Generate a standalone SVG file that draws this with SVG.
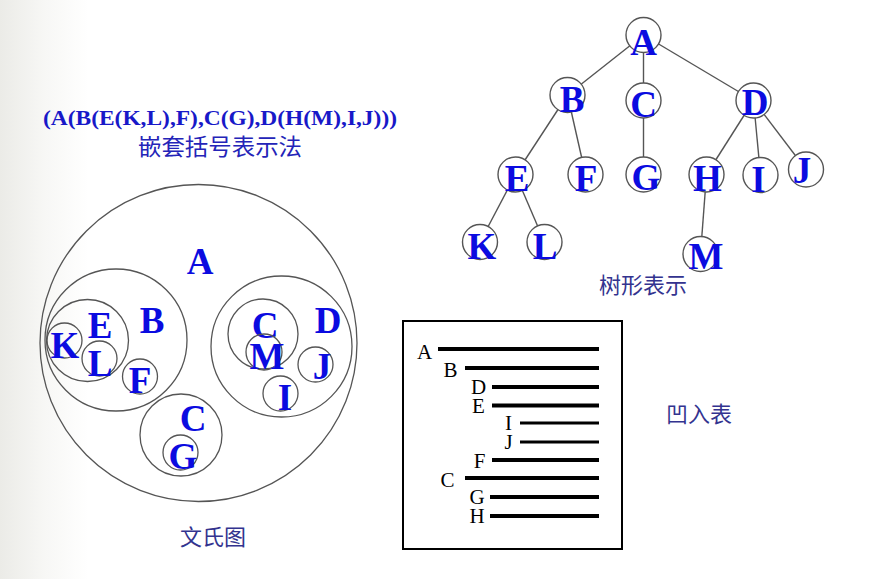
<svg xmlns="http://www.w3.org/2000/svg" width="883" height="579" viewBox="0 0 883 579">
<defs>
<linearGradient id="bg" x1="0" y1="0" x2="1" y2="0">
<stop offset="0" stop-color="#ebebe7"/>
<stop offset="0.05" stop-color="#f7f7f5"/>
<stop offset="0.1" stop-color="#ffffff"/>
</linearGradient>
<style>
.nd{fill:#fff;stroke:#555;stroke-width:1.4}
.vc{fill:none;stroke:#555;stroke-width:1.3}
.lt{font-family:"Liberation Serif","Times New Roman",serif;font-weight:bold;font-size:37px;fill:#0b0be0;text-anchor:middle}
.ed{stroke:#555;stroke-width:1.4;fill:none}
.cap{font-family:"Noto Sans CJK SC","Noto Sans",sans-serif;font-size:22px;fill:#33338f}
.ml{font-family:"Liberation Serif","Times New Roman",serif;font-size:21px;fill:#000;text-anchor:middle}
.bar{stroke:#000;stroke-width:4}
.bar2{stroke:#000;stroke-width:3}
</style>
</defs>
<rect x="0" y="0" width="883" height="579" fill="url(#bg)"/>

<!-- nested parentheses -->
<g id="nested">
<text x="43" y="125" textLength="354" lengthAdjust="spacingAndGlyphs" style="font-family:'Liberation Serif','Times New Roman',serif;font-weight:bold;font-size:21px;fill:#1818c8">(A(B(E(K,L),F),C(G),D(H(M),I,J)))</text>
<text x="138" y="155" textLength="164" lengthAdjust="spacingAndGlyphs" class="cap" style="fill:#2424b8;font-size:23px">嵌套括号表示法</text>
</g>

<!-- tree connectors -->
<g id="tree-edges">
<line class="ed" x1="643.5" y1="35" x2="567.5" y2="95"/>
<line class="ed" x1="643.5" y1="35" x2="643.5" y2="100.5"/>
<line class="ed" x1="643.5" y1="35" x2="753.5" y2="100.5"/>
<line class="ed" x1="567.5" y1="95" x2="515.5" y2="174.5"/>
<line class="ed" x1="567.5" y1="95" x2="585.5" y2="174.5"/>
<line class="ed" x1="643.5" y1="100.5" x2="643.5" y2="174.5"/>
<line class="ed" x1="753.5" y1="100.5" x2="706.5" y2="174.5"/>
<line class="ed" x1="753.5" y1="100.5" x2="760.5" y2="175"/>
<line class="ed" x1="753.5" y1="100.5" x2="806" y2="169.5"/>
<line class="ed" x1="515.5" y1="174.5" x2="480" y2="242"/>
<line class="ed" x1="515.5" y1="174.5" x2="544.5" y2="242"/>
<line class="ed" x1="706.5" y1="174.5" x2="700.5" y2="254"/>
</g>

<g id="tree-A"><circle class="nd" cx="643.5" cy="35" r="17.5"/><text class="lt" x="643.5" y="55">A</text></g>
<g id="tree-B"><circle class="nd" cx="567.5" cy="95" r="17.5"/><text class="lt" x="572" y="112">B</text></g>
<g id="tree-C"><circle class="nd" cx="643.5" cy="100.5" r="17.5"/><text class="lt" x="643.5" y="117">C</text></g>
<g id="tree-D"><circle class="nd" cx="753.5" cy="100.5" r="17.5"/><text class="lt" x="755" y="115">D</text></g>
<g id="tree-E"><circle class="nd" cx="515.5" cy="174.5" r="17.5"/><text class="lt" x="517" y="191">E</text></g>
<g id="tree-F"><circle class="nd" cx="585.5" cy="174.5" r="17.5"/><text class="lt" x="586" y="191">F</text></g>
<g id="tree-G"><circle class="nd" cx="643.5" cy="174.5" r="17.5"/><text class="lt" x="646" y="190">G</text></g>
<g id="tree-H"><circle class="nd" cx="706.5" cy="174.5" r="17.5"/><text class="lt" x="707.5" y="191">H</text></g>
<g id="tree-I"><circle class="nd" cx="760.5" cy="175" r="17.5"/><text class="lt" x="758.5" y="192">I</text></g>
<g id="tree-J"><circle class="nd" cx="806" cy="169.5" r="17.5"/><text class="lt" x="802" y="183">J</text></g>
<g id="tree-K"><circle class="nd" cx="480" cy="242" r="17.5"/><text class="lt" x="482" y="259">K</text></g>
<g id="tree-L"><circle class="nd" cx="544.5" cy="242" r="17.5"/><text class="lt" x="545" y="259">L</text></g>
<g id="tree-M"><circle class="nd" cx="700.5" cy="254" r="17.5"/><text class="lt" x="706" y="269">M</text></g>
<text class="cap" x="643" y="293" text-anchor="middle">树形表示</text>

<!-- Venn diagram -->
<g id="venn-A"><circle class="vc" cx="198.5" cy="343" r="158.5"/><text class="lt" x="200" y="274">A</text></g>
<g id="venn-B"><circle class="vc" cx="116" cy="340" r="71"/><text class="lt" x="152" y="333">B</text></g>
<g id="venn-E"><circle class="vc" cx="87.5" cy="340.5" r="41"/><text class="lt" x="100" y="338">E</text></g>
<g id="venn-K"><circle class="vc" cx="64.5" cy="340.5" r="17.5"/><text class="lt" x="65" y="358">K</text></g>
<g id="venn-L"><circle class="vc" cx="99.5" cy="358.5" r="17.5"/><text class="lt" x="100" y="376">L</text></g>
<g id="venn-F"><circle class="vc" cx="140" cy="376.5" r="17.5"/><text class="lt" x="140" y="393">F</text></g>
<g id="venn-C"><circle class="vc" cx="181" cy="435" r="41"/><text class="lt" x="193" y="431">C</text></g>
<g id="venn-G"><circle class="vc" cx="180.5" cy="452.5" r="17.5"/><text class="lt" x="183" y="469">G</text></g>
<g id="venn-D"><circle class="vc" cx="281.5" cy="346.5" r="70.5"/><text class="lt" x="328" y="333">D</text></g>
<g id="venn-H"><circle class="vc" cx="263" cy="334" r="35"/><text class="lt" x="265" y="338">C</text></g>
<g id="venn-M"><circle class="vc" cx="264" cy="352" r="18"/><text class="lt" x="267" y="369">M</text></g>
<g id="venn-J"><circle class="vc" cx="315.5" cy="364.5" r="17.5"/><text class="lt" x="322" y="379">J</text></g>
<g id="venn-I"><circle class="vc" cx="280.5" cy="393.5" r="17.5"/><text class="lt" x="285" y="410">I</text></g>
<text class="cap" x="213" y="545" text-anchor="middle">文氏图</text>

<!-- indented table -->
<g id="indent">
<rect x="403" y="321" width="219" height="228" fill="#fff" stroke="#000" stroke-width="2"/>
<g id="row-A"><text class="ml" x="424.5" y="359">A</text><line class="bar" x1="438" y1="349" x2="599" y2="349"/></g>
<g id="row-B"><text class="ml" x="450.5" y="377">B</text><line class="bar" x1="465" y1="368" x2="599" y2="368"/></g>
<g id="row-D"><text class="ml" x="478.5" y="394">D</text><line class="bar" x1="492" y1="387" x2="599" y2="387"/></g>
<g id="row-E"><text class="ml" x="478.5" y="413">E</text><line class="bar" x1="492" y1="405.5" x2="599" y2="405.5"/></g>
<g id="row-I"><text class="ml" x="508.5" y="430">I</text><line class="bar2" x1="520" y1="423" x2="599" y2="423"/></g>
<g id="row-J"><text class="ml" x="508.5" y="449">J</text><line class="bar2" x1="520" y1="442" x2="599" y2="442"/></g>
<g id="row-F"><text class="ml" x="479.5" y="468">F</text><line class="bar" x1="492" y1="460" x2="599" y2="460"/></g>
<g id="row-C"><text class="ml" x="447.5" y="487">C</text><line class="bar" x1="465" y1="478" x2="599" y2="478"/></g>
<g id="row-G"><text class="ml" x="477" y="504">G</text><line class="bar" x1="490" y1="497" x2="599" y2="497"/></g>
<g id="row-H"><text class="ml" x="477" y="523">H</text><line class="bar" x1="490" y1="516" x2="599" y2="516"/></g>
</g>
<text class="cap" x="699" y="422" text-anchor="middle">凹入表</text>
</svg>
